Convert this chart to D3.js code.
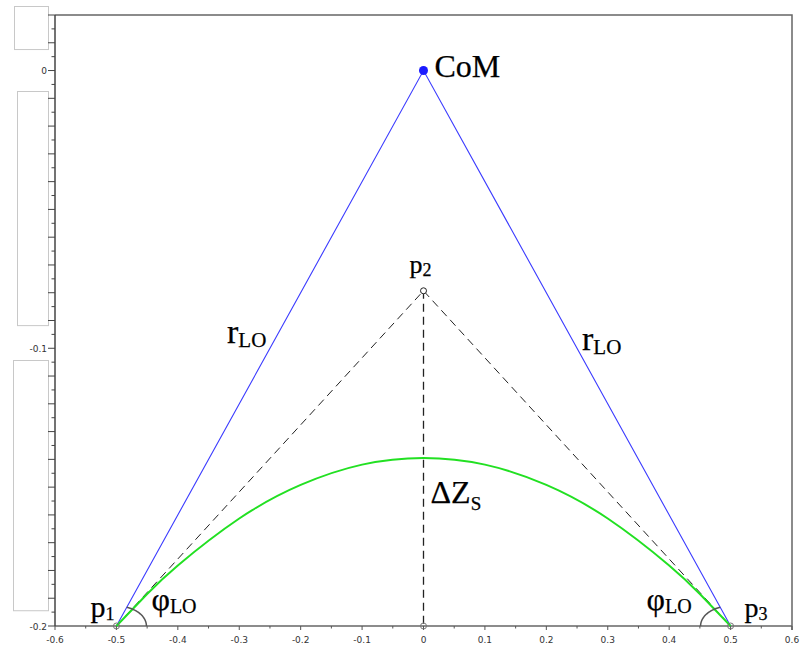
<!DOCTYPE html>
<html>
<head>
<meta charset="utf-8">
<script src="https://cdn.jsdelivr.net/npm/d3@7/dist/d3.min.js"></script>
<style>
  html, body { margin: 0; padding: 0; background: #fff; }
  svg { display: block; }
</style>
</head>
<body>
<svg id="chart" width="811" height="655"></svg>
<script>
// ---------- data ----------
const pointNames = ["p1", "p2", "p3", "CoM"];
const pointX = [-0.5, 0, 0.5, 0];
const pointY = [-0.2, -0.0793, -0.2, 0];

const legX = [-0.5, 0, 0.5];          // blue legs (r_LO)
const legY = [-0.2, 0, -0.2];

const dashX = [-0.5, 0, 0.5];         // dashed triangle through p2
const dashY = [-0.2, -0.0793, -0.2];

const stemX = [0, 0];                 // vertical dashed line (ΔZ_S)
const stemY = [-0.0793, -0.2];

const curveX = [-0.5, -0.45, -0.4, -0.3, -0.2, -0.1, 0, 0.1, 0.2, 0.3, 0.4, 0.45, 0.5];
const curveY = [-0.2, -0.1885, -0.1782, -0.1613, -0.1492, -0.1419, -0.1395, -0.1419, -0.1492, -0.1613, -0.1782, -0.1885, -0.2];

const xTickValues = [-0.6, -0.5, -0.4, -0.3, -0.2, -0.1, 0, 0.1, 0.2, 0.3, 0.4, 0.5, 0.6];
const xTickLabels = ["-0.6", "-0.5", "-0.4", "-0.3", "-0.2", "-0.1", "0", "0.1", "0.2", "0.3", "0.4", "0.5", "0.6"];
const yTickValues = [0, -0.1, -0.2];
const yTickLabels = ["0", "-0.1", "-0.2"];

// ---------- layout ----------
const svg = d3.select("#chart");
const mLeft = 55, mRight = 792, mTop = 15, mBottom = 626;
const x = d3.scaleLinear().domain([-0.6, 0.6]).range([mLeft, mRight]);
const y = d3.scaleLinear().domain([-0.2, 0.02]).range([mBottom, mTop]);

// ghost label boxes on the far left (artifacts of the original export)
const ghostBoxes = [[0.0234, 0.0079, 34], [-0.0072, -0.0915, 31], [-0.1041, -0.1942, 35]];
svg.append("g").selectAll("rect").data(ghostBoxes).join("rect")
  .attr("x", d => mLeft - 7 - d[2] + 0.5)
  .attr("y", d => Math.round(y(d[0])) + 0.5)
  .attr("width", d => d[2])
  .attr("height", d => y(d[1]) - y(d[0]))
  .attr("fill", "#fff").attr("stroke", "#c8c8c8").attr("stroke-width", 1);

// frame (top and right)
svg.append("path")
  .attr("d", `M${mLeft},${mTop}H${mRight}V${mBottom + 4}`)
  .attr("fill", "none").attr("stroke", "#666").attr("stroke-width", 1.5);

// x axis
const xMinor = d3.range(-0.6, 0.6001, 0.05).map(v => +v.toFixed(3));
const xAxis = svg.append("g");
xAxis.append("line").attr("x1", mLeft).attr("x2", mRight).attr("y1", mBottom).attr("y2", mBottom)
  .attr("stroke", "#666").attr("stroke-width", 1.5);
xAxis.selectAll("line.tk").data(xMinor).join("line").attr("class", "tk")
  .attr("x1", d => x(d)).attr("x2", d => x(d))
  .attr("y1", mBottom)
  .attr("y2", d => mBottom + (Math.abs(Math.round(d * 10) - d * 10) < 1e-6 ? 4 : 2.5))
  .attr("stroke", "#555").attr("stroke-width", 1);
xAxis.selectAll("text").data(xTickValues).join("text")
  .attr("x", d => x(d)).attr("y", mBottom + 17)
  .attr("text-anchor", "middle")
  .attr("font-family", "DejaVu Sans, sans-serif").attr("font-size", 9).attr("fill", "#333")
  .text((d, i) => xTickLabels[i]);

// y axis
const yMinor = d3.range(-0.2, 0.02001, 0.005).map(v => +v.toFixed(4));
const yAxis = svg.append("g");
yAxis.append("line").attr("x1", mLeft).attr("x2", mLeft).attr("y1", mTop).attr("y2", mBottom)
  .attr("stroke", "#444").attr("stroke-width", 1.5);
yAxis.selectAll("line.tk").data(yMinor).join("line").attr("class", "tk")
  .attr("y1", d => y(d)).attr("y2", d => y(d))
  .attr("x1", mLeft)
  .attr("x2", d => mLeft - (Math.abs(Math.round(d * 100) - d * 100) < 1e-6 ? 7 : 3.5))
  .attr("stroke", "#444").attr("stroke-width", 1);
yAxis.selectAll("text").data(yTickValues).join("text")
  .attr("x", mLeft - 8).attr("y", d => y(d) + 3.5)
  .attr("text-anchor", "end")
  .attr("font-family", "DejaVu Sans, sans-serif").attr("font-size", 9).attr("fill", "#333")
  .text((d, i) => yTickLabels[i]);

// lines
const lineGen = d3.line().x(d => x(d[0])).y(d => y(d[1]));
svg.append("path").datum(dashX.map((v, i) => [v, dashY[i]]))
  .attr("d", lineGen).attr("fill", "none").attr("stroke", "#222")
  .attr("stroke-width", 1).attr("stroke-dasharray", "8,5");
svg.append("path").datum(stemX.map((v, i) => [v, stemY[i]]))
  .attr("d", lineGen).attr("fill", "none").attr("stroke", "#222")
  .attr("stroke-width", 1.3).attr("stroke-dasharray", "8,5");
svg.append("path").datum(legX.map((v, i) => [v, legY[i]]))
  .attr("d", lineGen).attr("fill", "none").attr("stroke", "#3c3cff").attr("stroke-width", 1.1);
svg.append("path").datum(curveX.map((v, i) => [v, curveY[i]]))
  .attr("d", d3.line().x(d => x(d[0])).y(d => y(d[1])).curve(d3.curveNatural))
  .attr("fill", "none").attr("stroke", "#22e022").attr("stroke-width", 2);

// angle arcs (phi_LO) at the two feet
function legAngleArc(fx, fy, side) {
  const px = x(fx), py = y(fy);
  const cx = x(legX[1]), cy = y(legY[1]);
  const theta = Math.atan2(py - cy, Math.abs(cx - px));
  const a = 30, b = 20;
  const tEnd = Math.atan((a / b) * Math.tan(theta));
  const pts = d3.range(0, 41).map(k => {
    const t = tEnd * k / 40;
    return [px + side * a * Math.cos(t), py - b * Math.sin(t)];
  });
  svg.append("path").attr("d", d3.line()(pts))
    .attr("fill", "none").attr("stroke", "#555").attr("stroke-width", 1.5);
}
legAngleArc(legX[0], legY[0], 1);
legAngleArc(legX[2], legY[2], -1);

// point markers
[0, 2].forEach(i => {
  svg.append("circle").attr("cx", x(pointX[i])).attr("cy", y(pointY[i])).attr("r", 3)
    .attr("fill", "none").attr("stroke", "#777").attr("stroke-width", 1);
});
svg.append("circle").attr("cx", x(stemX[1])).attr("cy", y(stemY[1])).attr("r", 3)
  .attr("fill", "none").attr("stroke", "#777").attr("stroke-width", 1);
svg.append("circle").attr("cx", x(pointX[1])).attr("cy", y(pointY[1])).attr("r", 3)
  .attr("fill", "#fff").attr("stroke", "#222").attr("stroke-width", 1);
svg.append("circle").attr("cx", x(pointX[3])).attr("cy", y(pointY[3])).attr("r", 4.5)
  .attr("fill", "#1a1aff");

// labels
function label(px, py, main, sub, mainSize, subSize, subDy) {
  const t = svg.append("text").attr("x", px).attr("y", py)
    .attr("font-family", "Liberation Serif, Times New Roman, serif").attr("fill", "#000")
    .attr("stroke", "#000").attr("stroke-width", 0.25);
  t.append("tspan").attr("font-size", mainSize).text(main);
  if (sub) t.append("tspan").attr("font-size", subSize).attr("dy", subDy).text(sub);
  return t;
}
label(x(pointX[3]) + 11, y(pointY[3]) + 6, "CoM", null, 32);
label(x(pointX[1]) - 14, y(pointY[1]) - 18, "p", "2", 26, 18, 3);
label(x(pointX[0]) - 26, y(pointY[0]) - 9, "p", "1", 30, 18, 3);
label(x(pointX[2]) + 14, y(pointY[2]) - 9, "p", "3", 28, 18, 3);
label(227, 343, "r", "LO", 34, 21, 4);
label(582, 350, "r", "LO", 34, 21, 4);
label(x(0) + 7, 503, "ΔZ", "S", 32, 19, 7);
label(x(legX[0]) + 35, 610, "φ", "LO", 32, 20, 3);
label(x(legX[2]) - 84, 610, "φ", "LO", 32, 20, 3);
</script>
</body>
</html>
